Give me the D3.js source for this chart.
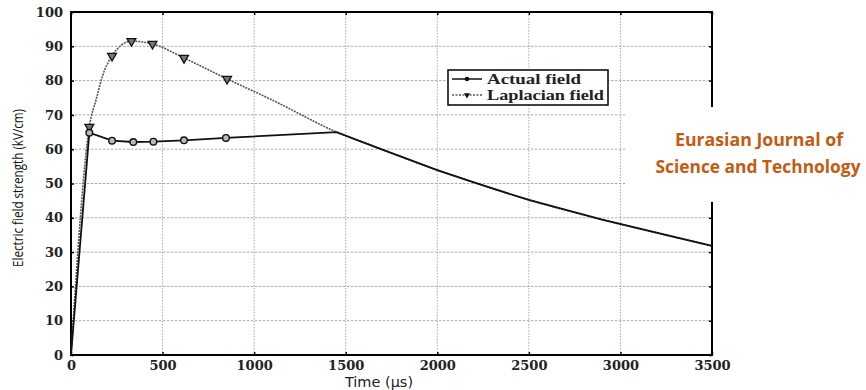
<!DOCTYPE html>
<html>
<head>
<meta charset="utf-8">
<script src="https://cdn.jsdelivr.net/npm/d3@7"></script>
<style>
  body { margin: 0; background: #fff; }
  svg { display: block; }
</style>
</head>
<body>
<div id="chart"></div>
<script>
// data
const actualTime  = [0, 100, 224, 340, 450, 617, 846, 1450, 1700, 2000, 2200, 2500, 2900, 3500];
const actualField = [0, 64.8, 62.5, 62.1, 62.2, 62.6, 63.3, 65.0, 59.9, 53.9, 50.3, 45.2, 39.5, 31.8];
const actualMarks = [100, 224, 340, 450, 617, 846];

const lapTime  = [0, 100, 140, 170, 224, 330, 445, 617, 852, 1100, 1450, 1700, 2000, 2200, 2500, 2900, 3500];
const lapField = [0, 66.5, 75, 81, 87.2, 91.5, 90.7, 86.6, 80.5, 74.3, 65.0, 59.9, 53.9, 50.3, 45.2, 39.5, 31.8];
const lapMarks = [100, 224, 330, 445, 617, 852];

const xTicks = [0, 500, 1000, 1500, 2000, 2500, 3000, 3500];
const yTicks = [0, 10, 20, 30, 40, 50, 60, 70, 80, 90, 100];
const seriesNames = ["Actual field", "Laplacian field"];

const W = 866, H = 390;
let margin = {left: 71, right: 154, top: 12, bottom: 35},
    width = W - margin.left - margin.right,
    height = H - margin.top - margin.bottom;

let root = d3.select('#chart').append('svg')
    .attr('width', W).attr('height', H);
let svg = root.append('g')
    .attr('transform', 'translate(' + margin.left + ',' + margin.top + ')');

let xScale = d3.scaleLinear().domain([0, 3500]).range([0, width]);
let yScale = d3.scaleLinear().domain([0, 100]).range([height, 0]);

// grid
svg.append('g').selectAll('line.gx')
   .data(xTicks.slice(1, -1)).enter().append('line')
   .attr('x1', d => xScale(d)).attr('x2', d => xScale(d))
   .attr('y1', 0).attr('y2', height)
   .attr('stroke', '#aaa').attr('stroke-width', 1).attr('stroke-dasharray', '1.5,1.5');
svg.append('g').selectAll('line.gy')
   .data(yTicks.slice(1, -1)).enter().append('line')
   .attr('x1', 0).attr('x2', width)
   .attr('y1', d => yScale(d)).attr('y2', d => yScale(d))
   .attr('stroke', '#aaa').attr('stroke-width', 1).attr('stroke-dasharray', '2.5,1.5');

// axes
let tickFont = "'DejaVu Serif', serif";
let xAxis = d3.axisBottom(xScale).tickValues(xTicks).tickFormat(d3.format('d'))
    .tickSize(-3).tickSizeOuter(0).tickPadding(6);
let yAxis = d3.axisLeft(yScale).tickValues(yTicks).tickFormat(d3.format('d'))
    .tickSize(-3).tickSizeOuter(0).tickPadding(8);

let gx = svg.append('g').attr('transform', 'translate(0,' + height + ')').call(xAxis);
let gy = svg.append('g').call(yAxis);
svg.append('g').call(d3.axisTop(xScale).tickValues(xTicks).tickSize(-3).tickSizeOuter(0).tickFormat(''));
svg.append('g').attr('transform', 'translate(' + width + ',0)')
   .call(d3.axisRight(yScale).tickValues(yTicks).tickSize(-3).tickSizeOuter(0).tickFormat(''));

svg.selectAll('.domain').remove();
svg.selectAll('.tick line').attr('stroke', '#000').attr('stroke-width', 1.5);
[gx, gy].forEach(g => g.selectAll('text')
   .style('font-family', tickFont).style('font-weight', 'bold')
   .style('font-size', '13px').attr('fill', '#222'));

// frame
svg.append('rect').attr('x', 0).attr('y', 0).attr('width', width).attr('height', height)
   .attr('fill', 'none').attr('stroke', '#000').attr('stroke-width', 2);

// lines
let smooth = d3.line().x(d => xScale(d[0])).y(d => yScale(d[1])).curve(d3.curveMonotoneX);
let straight = d3.line().x(d => xScale(d[0])).y(d => yScale(d[1]));
let lapData = lapTime.map((t, i) => [t, lapField[i]]);
let actData = actualTime.map((t, i) => [t, actualField[i]]);

svg.append('path').datum(lapData).attr('d', smooth)
   .attr('fill', 'none').attr('stroke', '#555').attr('stroke-width', 1.6)
   .attr('stroke-dasharray', '2,1');
svg.append('path').datum(actData).attr('d', straight)
   .attr('fill', 'none').attr('stroke', '#111').attr('stroke-width', 1.8);

let tri = d3.symbol().type(d3.symbolTriangle).size(34);
svg.selectAll('path.lapm')
   .data(lapData.filter(d => lapMarks.includes(d[0]))).enter().append('path')
   .attr('d', tri)
   .attr('transform', d => 'translate(' + xScale(d[0]) + ',' + yScale(d[1]) + ') rotate(180)')
   .attr('fill', '#777').attr('stroke', '#111').attr('stroke-width', 1.3);
svg.selectAll('circle.actm')
   .data(actData.filter(d => actualMarks.includes(d[0]))).enter().append('circle')
   .attr('cx', d => xScale(d[0])).attr('cy', d => yScale(d[1])).attr('r', 3.3)
   .attr('fill', '#bbb').attr('stroke', '#111').attr('stroke-width', 1.4);

// axis titles
root.append('text').attr('x', 379).attr('y', 387).attr('text-anchor', 'middle')
   .style('font-family', "'DejaVu Sans', sans-serif").style('font-size', '14.5px')
   .attr('fill', '#222').text('Time (μs)');
root.append('text').attr('transform', 'translate(23,188) rotate(-90)').attr('text-anchor', 'middle')
   .attr('textLength', 158).attr('lengthAdjust', 'spacingAndGlyphs')
   .style('font-family', "'Liberation Sans Narrow', 'Open Sans', sans-serif").style('font-size', '15px')
   .attr('fill', '#111').text('Electric field strength (kV/cm)');

// legend
let lg = root.append('g');
lg.append('rect').attr('x', 448).attr('y', 70).attr('width', 160).attr('height', 35)
  .attr('fill', '#fff').attr('stroke', '#111').attr('stroke-width', 1.6);
seriesNames.forEach((name, i) => {
  let yy = 79 + i * 16;
  lg.append('line').attr('x1', 452).attr('x2', 482).attr('y1', yy).attr('y2', yy)
    .attr('stroke', i ? '#555' : '#111').attr('stroke-width', 1.5)
    .attr('stroke-dasharray', i ? '2,1.5' : null);
  if (i === 0) {
    lg.append('circle').attr('cx', 467).attr('cy', yy).attr('r', 2.3).attr('fill', '#111');
  } else {
    lg.append('path').attr('d', d3.symbol().type(d3.symbolTriangle).size(16))
      .attr('transform', 'translate(467,' + yy + ') rotate(180)').attr('fill', '#111');
  }
  lg.append('text').attr('x', 487).attr('y', yy + 5)
    .attr('textLength', i ? 117 : 94).attr('lengthAdjust', 'spacingAndGlyphs')
    .style('font-family', "'Liberation Serif', serif").style('font-weight', 'bold').style('font-size', '15px')
    .attr('fill', '#222').text(name);
});

// watermark
root.append('rect').attr('x', 625).attr('y', 107).attr('width', 241).attr('height', 95).attr('fill', '#fff');
root.append('text').attr('x', 759).attr('y', 146).attr('text-anchor', 'middle')
   .attr('textLength', 168).attr('lengthAdjust', 'spacingAndGlyphs')
   .style('font-family', "'Open Sans', sans-serif").style('font-weight', 'bold').style('font-size', '17.5px')
   .attr('fill', '#c55a11').text('Eurasian Journal of');
root.append('text').attr('x', 758).attr('y', 173).attr('text-anchor', 'middle')
   .attr('textLength', 205).attr('lengthAdjust', 'spacingAndGlyphs')
   .style('font-family', "'Open Sans', sans-serif").style('font-weight', 'bold').style('font-size', '17.5px')
   .attr('fill', '#c55a11').text('Science and Technology');
</script>
</body>
</html>
